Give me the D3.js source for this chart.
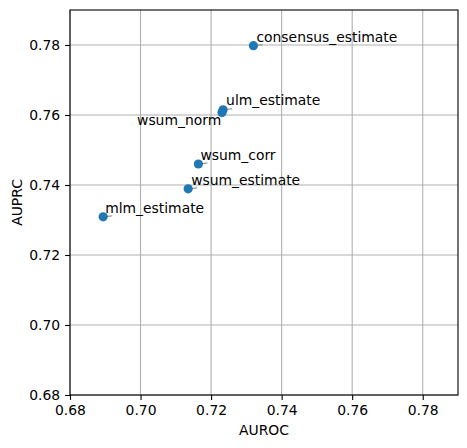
<!DOCTYPE html>
<html>
<head>
<meta charset="utf-8">
<script src="https://cdn.jsdelivr.net/npm/d3@7"></script>
<style>
  body { margin: 0; background: #fff; }
  text { font-family: "DejaVu Sans", sans-serif; }
</style>
</head>
<body>
<div id="chart"></div>
<script>
const w = 467;
const h = 448;
const margin = { top: 10, right: 9, bottom: 53, left: 70 };

// method names and scores
const methods = ["consensus_estimate", "ulm_estimate", "wsum_norm", "wsum_corr", "wsum_estimate", "mlm_estimate"];
const auroc = [0.7320, 0.7234, 0.7231, 0.7164, 0.7135, 0.6894];
const auprc = [0.7798, 0.7615, 0.7607, 0.7460, 0.7389, 0.7309];
const tickValues = [0.68, 0.70, 0.72, 0.74, 0.76, 0.78];

// label offsets in pixels (x, y of text start relative to point)
const labelOffsets = [[3, -4], [3, -5], [-85, 12], [2, -4], [3, -4], [2, -4]];

const fontSize = 13.9;
const svg = d3.select("#chart").append("svg").attr("width", w).attr("height", h);

const x = d3.scaleLinear().domain([0.68, 0.79]).range([margin.left, w - margin.right]);
const y = d3.scaleLinear().domain([0.68, 0.79]).range([h - margin.bottom, margin.top]);

// grid
svg.append("g")
    .selectAll("line")
    .data(tickValues)
    .enter()
    .append("line")
    .attr("x1", d => x(d)).attr("x2", d => x(d))
    .attr("y1", margin.top).attr("y2", h - margin.bottom)
    .style("stroke", "#b0b0b0").style("stroke-width", 1.1);
svg.append("g")
    .selectAll("line")
    .data(tickValues)
    .enter()
    .append("line")
    .attr("y1", d => y(d)).attr("y2", d => y(d))
    .attr("x1", margin.left).attr("x2", w - margin.right)
    .style("stroke", "#b0b0b0").style("stroke-width", 1.1);

const xAxis = d3.axisBottom(x).tickValues(tickValues).tickFormat(d3.format(".2f")).tickSize(4.9).tickPadding(4.9);
const yAxis = d3.axisLeft(y).tickValues(tickValues).tickFormat(d3.format(".2f")).tickSize(4.9).tickPadding(4.9);

const gx = svg.append("g").attr("transform", "translate(0," + (h - margin.bottom) + ")").call(xAxis);
const gy = svg.append("g").attr("transform", "translate(" + margin.left + ",0)").call(yAxis);
[gx, gy].forEach(g => {
    g.select(".domain").remove();
    g.selectAll("line").style("stroke", "#000").style("stroke-width", 1.1);
    g.selectAll("text").style("font-size", fontSize + "px").style("fill", "#000")
        .style("font-family", "'DejaVu Sans', sans-serif");
});

// frame
svg.append("rect")
    .attr("x", margin.left).attr("y", margin.top)
    .attr("width", w - margin.left - margin.right)
    .attr("height", h - margin.top - margin.bottom)
    .style("fill", "none").style("stroke", "#000").style("stroke-width", 1.1);

const points = methods.map((m, i) => ({ name: m, x: auroc[i], y: auprc[i], off: labelOffsets[i] }));

// small leader lines
svg.append("g")
    .selectAll("line")
    .data(points)
    .enter()
    .append("line")
    .attr("x1", d => x(d.x)).attr("y1", d => y(d.y))
    .attr("x2", d => x(d.x) + (d.off[0] > 0 ? 9 : -3))
    .attr("y2", d => y(d.y) + (d.off[0] > 0 ? -1 : 3))
    .style("stroke", "#808080").style("stroke-width", 1);

svg.append("g")
    .selectAll("circle")
    .data(points)
    .enter()
    .append("circle")
    .attr("cx", d => x(d.x))
    .attr("cy", d => y(d.y))
    .attr("r", 4.6)
    .style("fill", "#1f77b4");

svg.append("g")
    .selectAll("text")
    .data(points)
    .enter()
    .append("text")
    .attr("x", d => x(d.x) + d.off[0])
    .attr("y", d => y(d.y) + d.off[1])
    .style("font-size", fontSize + "px")
    .style("fill", "#000")
    .text(d => d.name);

svg.append("text")
    .attr("x", (margin.left + w - margin.right) / 2)
    .attr("y", 435)
    .attr("text-anchor", "middle")
    .style("font-size", fontSize + "px")
    .text("AUROC");

svg.append("text")
    .attr("transform", "translate(22," + ((margin.top + h - margin.bottom) / 2) + ") rotate(-90)")
    .attr("text-anchor", "middle")
    .style("font-size", fontSize + "px")
    .text("AUPRC");
</script>
</body>
</html>
